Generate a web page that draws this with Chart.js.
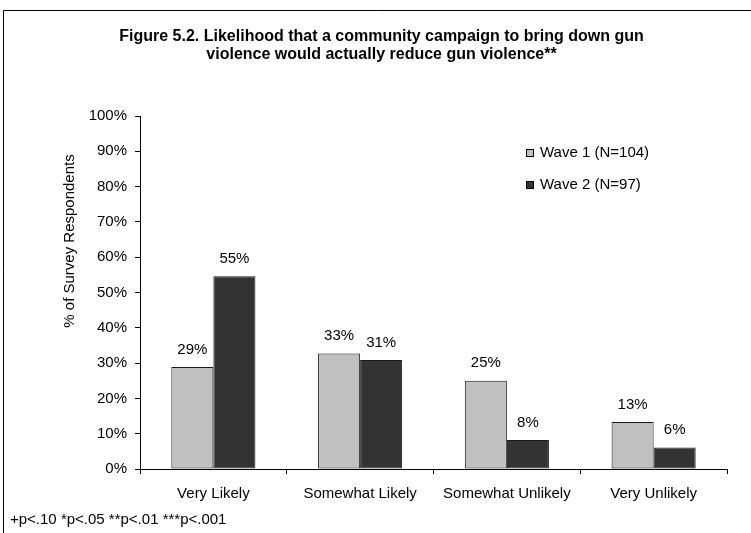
<!DOCTYPE html>
<html>
<head>
<meta charset="utf-8">
<script src="https://cdn.jsdelivr.net/npm/chart.js@4"></script>
<style>
    html, body { margin: 0; padding: 0; background: #fff; }
    #wrap { width: 751px; height: 533px; position: relative; }
</style>
</head>
<body>
<div id="wrap"><canvas id="chart" width="751" height="533"></canvas></div>
<script>
// =========================
// DATA
// =========================
const categories = ["Very Likely", "Somewhat Likely", "Somewhat Unlikely", "Very Unlikely"];
const wave1 = [28.9, 32.7, 25.0, 13.3];
const wave2 = [54.6, 30.9, 8.2, 6.1];
const seriesNames = ["Wave 1 (N=104)", "Wave 2 (N=97)"];
const yTicks = [0, 10, 20, 30, 40, 50, 60, 70, 80, 90, 100];
const titleLines = [
    "Figure 5.2. Likelihood that a community campaign to bring down gun",
    "violence would actually reduce gun violence**"
];
const yTitle = "% of Survey Respondents";
const footnote = "+p<.10 *p<.05 **p<.01 ***p<.001";

const FONT = "'Liberation Sans', Arial, sans-serif";

// =========================
// EXTRA DRAWING (frame, labels, legend, notes)
// =========================
const extras = {
    id: "extras",
    beforeDraw(chart) {
        const ctx = chart.ctx;
        ctx.save();
        ctx.strokeStyle = "#000";
        ctx.lineWidth = 1;
        ctx.beginPath();
        ctx.moveTo(3.5, 533);
        ctx.lineTo(3.5, 10.5);
        ctx.lineTo(751, 10.5);
        ctx.stroke();
        ctx.restore();
    },
    afterDraw(chart) {
        const ctx = chart.ctx;
        ctx.save();

        // value labels above bars
        ctx.font = "15px " + FONT;
        ctx.fillStyle = "#000";
        ctx.textAlign = "center";
        ctx.textBaseline = "middle";
        chart.data.datasets.forEach((ds, i) => {
            chart.getDatasetMeta(i).data.forEach((bar, j) => {
                ctx.fillText(Math.round(ds.data[j]) + "%", bar.x, bar.y - 17.5);
            });
        });

        // y axis title
        ctx.save();
        ctx.translate(70, 241);
        ctx.rotate(-Math.PI / 2);
        ctx.fillText(yTitle, 0, 0);
        ctx.restore();

        // legend
        ctx.textAlign = "left";
        chart.data.datasets.forEach((ds, i) => {
            const y = 153 + i * 32;
            ctx.fillStyle = ds.backgroundColor;
            ctx.fillRect(526, y - 4, 8, 8);
            ctx.strokeStyle = "#000";
            ctx.lineWidth = 1;
            ctx.strokeRect(526.5, y - 3.5, 7, 7);
            ctx.fillStyle = "#000";
            ctx.fillText(ds.label, 540, y);
        });

        // footnote
        ctx.fillText(footnote, 10, 520);
        ctx.restore();
    }
};

// =========================
// CHART
// =========================
new Chart(document.getElementById("chart"), {
    type: "bar",
    data: {
        labels: categories,
        datasets: [
            {
                label: seriesNames[0],
                data: wave1,
                backgroundColor: "#C0C0C0",
                borderColor: "#1a1a1a",
                borderWidth: 1,
                borderSkipped: false
            },
            {
                label: seriesNames[1],
                data: wave2,
                backgroundColor: "#333333",
                borderColor: "#1a1a1a",
                borderWidth: 1,
                borderSkipped: false
            }
        ]
    },
    options: {
        responsive: false,
        animation: false,
        layout: { padding: { left: 36, right: 24, top: 0, bottom: 0 } },
        plugins: {
            legend: { display: false },
            tooltip: { enabled: false },
            title: {
                display: true,
                text: titleLines,
                color: "#000",
                font: { family: FONT, size: 16, weight: "bold", lineHeight: 1.125 },
                padding: { top: 28, bottom: 52 }
            }
        },
        datasets: {
            bar: { categoryPercentage: 0.573, barPercentage: 1.0 }
        },
        scales: {
            x: {
                grid: { drawOnChartArea: false, tickLength: 5, color: "#000", offset: true },
                border: { color: "#000", width: 1 },
                ticks: { color: "#000", font: { family: FONT, size: 15 }, padding: 11, maxRotation: 0 },
                afterFit(scale) { scale.height = 64; }
            },
            y: {
                min: 0,
                max: 100,
                afterBuildTicks(scale) { scale.ticks = yTicks.map(v => ({ value: v })); },
                grid: { drawOnChartArea: false, tickLength: 5, color: "#000" },
                border: { color: "#000", width: 1 },
                ticks: {
                    color: "#000",
                    font: { family: FONT, size: 15 },
                    padding: 8,
                    callback: v => v + "%"
                },
                afterFit(scale) { scale.width = 104; }
            }
        }
    },
    plugins: [extras]
});
</script>
</body>
</html>
